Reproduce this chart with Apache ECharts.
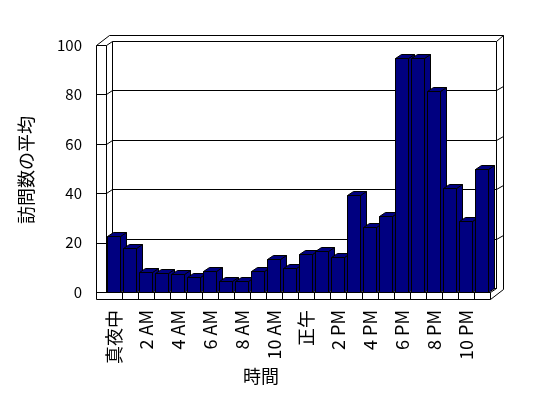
<!DOCTYPE html>
<html>
<head>
<meta charset="utf-8">
<script src="https://cdn.jsdelivr.net/npm/echarts/dist/echarts.min.js"></script>
<style>
  html, body { margin: 0; padding: 0; background: #fff; }
  #main { width: 548px; height: 398px; }
</style>
</head>
<body>
<div id="main"></div>
<script>
// 時間帯
const hours = ['真夜中', '1 AM', '2 AM', '3 AM', '4 AM', '5 AM', '6 AM', '7 AM', '8 AM', '9 AM', '10 AM', '11 AM',
  '正午', '1 PM', '2 PM', '3 PM', '4 PM', '5 PM', '6 PM', '7 PM', '8 PM', '9 PM', '10 PM', '11 PM'];
// 訪問数の平均
const visits = [22.6, 18.0, 8.0, 7.6, 7.2, 6.0, 8.3, 4.6, 4.6, 8.3, 13.5, 9.6,
  15.2, 16.4, 14.3, 39.1, 26.5, 30.6, 94.6, 94.6, 81.2, 42.2, 28.9, 49.6];
const yTicks = [0, 20, 40, 60, 80, 100];

const FONT = '"Noto Sans CJK JP", "Noto Sans", sans-serif';
const px = v => Math.round(v) + 0.5;
const DX = 6, DY = -4;      // 奥行き
const WALL = 10, FLOOR = 7;  // 壁と床の厚さ

let myChart = echarts.init(document.getElementById('main'));

// 壁・床・目盛線
function renderFrame(params, api) {
  const cs = params.coordSys;
  const L = cs.x, R = cs.x + cs.width, T = cs.y, B = cs.y + cs.height;
  const F = L - WALL, FB = B + FLOOR;
  const bw = api.size([1, 0])[0];
  const kids = [];
  const seg = pts => kids.push({
    type: 'polyline',
    shape: { points: pts.map(q => [px(q[0]), px(q[1])]) },
    style: { stroke: '#000', fill: null, lineWidth: 1 }
  });

  // 上端
  seg([[F, FB], [F, T], [F + 13, T - 10], [R + 13, T - 10], [R + 13, FB - 10], [R, FB]]);
  seg([[R + DX, T + DY], [R + 13, T - 10]]);
  // 左壁・奥の壁
  seg([[L, T], [L, B]]);
  seg([[L + DX, T + DY], [L + DX, B + DY]]);
  seg([[R + DX, T + DY], [R + DX, B + DY]]);
  // 床
  seg([[F, B], [R, B], [R + DX, B + DY], [L + DX, B + DY]]);
  seg([[F, FB], [R, FB], [R, B]]);
  for (let k = 1; k < hours.length; k++) {
    seg([[L + bw * k, B], [L + bw * k, FB]]);
  }
  // 目盛線
  yTicks.forEach(v => {
    const y = api.coord([0, v])[1];
    const pts = [[F, y], [L, y], [L + DX, y + DY], [R + DX, y + DY]];
    if (v > 0 && v < 100) pts.push([R + 13, y + DY - 4]);
    seg(pts);
  });
  return { type: 'group', children: kids };
}

// 3D 棒
function renderBar(params, api) {
  const k = api.value(0), v = api.value(1);
  const base = api.coord([k, 0]), top = api.coord([k, v]);
  const bw = api.size([1, 0])[0];
  const c = base[0] - bw / 2;
  const x0 = Math.round(c) + 1.5, x1 = Math.round(c + bw) - 1.5;
  const y0 = px(top[1]), yb = px(base[1]);
  const st = { fill: '#000080', stroke: '#000', lineWidth: 1 };
  return {
    type: 'group',
    children: [
      { type: 'polygon', shape: { points: [[x1, y0], [x1 + DX, y0 + DY], [x1 + DX, yb + DY], [x1, yb]] }, style: st },
      { type: 'polygon', shape: { points: [[x0, y0], [x1, y0], [x1 + DX, y0 + DY], [x0 + DX, y0 + DY]] }, style: st },
      { type: 'rect', shape: { x: x0, y: y0, width: x1 - x0, height: yb - y0 }, style: st }
    ]
  };
}

let option = {
  animation: false,
  backgroundColor: '#fff',
  grid: { left: 106, right: 58, top: 45, bottom: 106 },
  xAxis: {
    type: 'category',
    data: hours,
    axisLine: { show: false },
    axisTick: { show: false },
    axisLabel: { interval: 1, rotate: 90, margin: 18, fontSize: 18, fontFamily: FONT, color: '#000' }
  },
  yAxis: {
    type: 'value',
    min: 0, max: 100, interval: 20,
    offset: WALL,
    axisLine: { show: false },
    axisTick: { show: false },
    splitLine: { show: false },
    axisLabel: { margin: 14, fontSize: 15, fontFamily: FONT, color: '#000' }
  },
  graphic: [
    { type: 'text', left: 243, top: 367, style: { text: '時間', font: '18px ' + FONT, fill: '#000' } },
    {
      type: 'text', x: 26, y: 170, rotation: Math.PI / 2,
      style: { text: '訪問数の平均', font: '18px ' + FONT, fill: '#000', align: 'center', verticalAlign: 'middle', textAlign: 'center', textVerticalAlign: 'middle' }
    }
  ],
  series: [
    { type: 'custom', z: 1, renderItem: renderFrame, data: [[0, 0]], silent: true },
    { type: 'custom', z: 2, renderItem: renderBar, data: visits.map((v, i) => [i, v]) }
  ]
};

myChart.setOption(option);
</script>
</body>
</html>
